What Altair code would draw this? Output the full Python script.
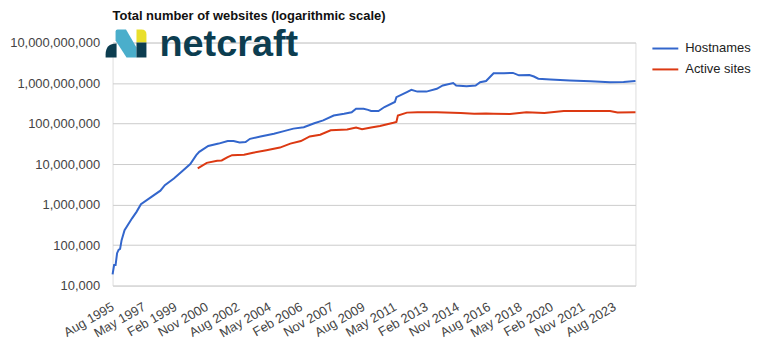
import altair as alt
import pandas as pd

# ---- data ----
host_dates = ["1995-08-01", "1995-09-01", "1995-10-01", "1995-11-01", "1995-12-01", "1996-01-01",
              "1996-02-01", "1996-04-01", "1996-09-01", "1996-12-01", "1997-03-01", "1997-10-01",
              "1998-04-01", "1998-07-01", "1999-01-01", "1999-06-01", "1999-12-01", "2000-04-01",
              "2000-06-01", "2000-12-01", "2001-07-01", "2002-01-01", "2002-05-01", "2002-09-01",
              "2003-01-01", "2003-04-01", "2003-11-01", "2004-08-01", "2005-02-01", "2005-09-01",
              "2006-04-01", "2006-11-01", "2007-05-01", "2007-12-01", "2008-07-01", "2008-12-01",
              "2009-03-01", "2009-08-01", "2009-11-01", "2010-01-01", "2010-06-01", "2010-10-01",
              "2011-05-01", "2011-06-01", "2012-01-01", "2012-04-01", "2012-08-01", "2013-02-01",
              "2013-09-01", "2014-01-01", "2014-08-01", "2014-10-01", "2015-05-01", "2015-11-01",
              "2016-02-01", "2016-06-01", "2016-11-01", "2017-06-01", "2017-12-01", "2018-04-01",
              "2018-11-01", "2019-02-01", "2019-05-01", "2020-01-01", "2021-02-01", "2022-04-01",
              "2023-05-01", "2024-02-01", "2024-10-01"]
host_values = [18957, 32000, 32000, 63000, 76000, 80000,
               132000, 234000, 457000, 660000, 1020000, 1550000,
               2200000, 3000000, 4400000, 6400000, 10000000, 16600000,
               20000000, 28000000, 32000000, 37000000, 37000000, 34000000,
               35000000, 42000000, 48000000, 56000000, 64000000, 75000000,
               81000000, 102000000, 120000000, 158000000, 174000000, 190000000,
               233000000, 233000000, 218000000, 204000000, 204000000, 256000000,
               340000000, 447000000, 600000000, 680000000, 615000000, 615000000,
               720000000, 870000000, 1000000000, 870000000, 830000000, 870000000,
               1050000000, 1120000000, 1750000000, 1750000000, 1780000000, 1550000000,
               1580000000, 1450000000, 1280000000, 1230000000, 1160000000, 1100000000,
               1050000000, 1060000000, 1120000000]

active_dates = ["2000-05-01", "2000-11-01", "2001-06-01", "2001-09-01", "2002-01-01", "2002-04-01",
                "2002-12-01", "2003-06-01", "2004-03-01", "2004-12-01", "2005-07-01", "2006-02-01",
                "2006-08-01", "2007-03-01", "2007-10-01", "2008-09-01", "2009-03-01", "2009-07-01",
                "2010-01-01", "2010-07-01", "2011-04-01", "2011-06-01", "2011-07-01", "2012-01-01",
                "2012-08-01", "2013-09-01", "2015-01-01", "2015-10-01", "2016-06-01", "2016-11-01",
                "2017-10-01", "2018-09-01", "2019-09-01", "2020-10-01", "2021-07-01", "2023-05-01",
                "2023-10-01", "2024-10-01"]
active_values = [7800000, 10700000, 12000000, 12300000, 14800000, 16600000,
                 17000000, 19000000, 22000000, 25500000, 32000000, 37000000,
                 48000000, 53000000, 68000000, 71000000, 80000000, 72000000,
                 80000000, 87000000, 105000000, 110000000, 158000000, 186000000,
                 191000000, 191000000, 182000000, 175000000, 178000000, 175000000,
                 172000000, 190000000, 182000000, 205000000, 205000000, 205000000,
                 188000000, 191000000]

series_names = ["Hostnames", "Active sites"]
series_colors = ["#3366cc", "#dc3912"]
y_ticks = [1e4, 1e5, 1e6, 1e7, 1e8, 1e9, 1e10]
x_tick_dates = ["1995-08", "1997-05", "1999-02", "2000-11", "2002-08", "2004-05", "2006-02",
                "2007-11", "2009-08", "2011-05", "2013-02", "2014-11", "2016-08", "2018-05",
                "2020-02", "2021-11", "2023-08"]
x_domain = ["1995-08", "2024-10"]
title_text = "Total number of websites (logarithmic scale)"
logo_text = "netcraft"

df = pd.concat([
    pd.DataFrame({"date": pd.to_datetime(host_dates), "value": host_values, "series": series_names[0]}),
    pd.DataFrame({"date": pd.to_datetime(active_dates), "value": active_values, "series": series_names[1]}),
])


def dt(s):
    y, m = s.split("-")
    return alt.DateTime(year=int(y), month=int(m), date=1)


W, H = 525, 244
FONT = "Liberation Sans"

lines = alt.Chart(df).mark_line(strokeWidth=2).encode(
    x=alt.X("date:T", title=None,
            scale=alt.Scale(domain=[dt(x_domain[0]), dt(x_domain[1])], nice=False),
            axis=alt.Axis(values=[dt(s) for s in x_tick_dates], format="%b %Y", labelAngle=-30,
                          labelAlign="right", labelBaseline="middle", labelPadding=20,
                          ticks=False, domain=False, grid=False, labelFontSize=13,
                          labelColor="#444444", labelFont=FONT, labelOverlap=False)),
    y=alt.Y("value:Q", title=None,
            scale=alt.Scale(type="log", domain=[1e4, 1e10], nice=False),
            axis=alt.Axis(values=y_ticks, format=",", ticks=False, domain=False,
                          gridColor="#cccccc", labelFontSize=13, labelColor="#444444",
                          labelFont=FONT, labelPadding=13)),
    color=alt.Color("series:N", sort=series_names,
                    scale=alt.Scale(domain=series_names, range=series_colors),
                    legend=alt.Legend(title=None, orient="none", legendX=541, legendY=-8,
                                      symbolType="stroke", symbolSize=676, symbolStrokeWidth=2,
                                      labelFontSize=13, labelColor="#222222", labelFont=FONT,
                                      labelOffset=6, rowPadding=0, padding=0)),
    detail="series:N",
)

title = alt.Chart(pd.DataFrame({"t": [title_text]})).mark_text(
    align="left", baseline="alphabetic", fontSize=13, fontWeight="bold", font=FONT, color="#111111"
).encode(x=alt.value(0), y=alt.value(-23), text="t:N")

logo_word = alt.Chart(pd.DataFrame({"t": [logo_text]})).mark_text(
    align="left", baseline="alphabetic", fontSize=38, fontWeight="bold", font=FONT, color="#0c3d50"
).encode(x=alt.value(47), y=alt.value(14), text="t:N")

logo_parts = [
    ("M-0.976,0.667 L-0.452,0.667 L-0.452,0 Q-0.976,0 -0.976,0.524 Z", "#0c3d50"),
    ("M-0.5,-0.571 Q-0.5,-0.667 -0.405,-0.667 L0,-0.667 L0.5,0.19 L0.5,0.667 L0.024,0.667 L-0.5,-0.143 Z", "#4aaecb"),
    ("M0.5,-0.667 L0.738,-0.667 Q0.976,-0.667 0.976,-0.43 L0.976,-0.048 L0.5,-0.048 Z", "#e9df2b"),
    ("M0.5,-0.048 L0.976,-0.048 L0.976,0.667 L0.5,0.667 Z", "#0c3d50"),
]
logo_layers = []
for path, col in logo_parts:
    logo_layers.append(
        alt.Chart(pd.DataFrame({"k": [0]})).mark_point(
            shape=path, filled=True, size=1764, color=col, opacity=1, strokeWidth=0
        ).encode(x=alt.value(13.5), y=alt.value(1))
    )

chart = alt.layer(lines, *logo_layers, logo_word, title).properties(
    width=W, height=H,
    autosize=alt.AutoSizeParams(type="none"),
    padding={"left": 105, "top": 34, "right": 117, "bottom": 58},
).configure_view(stroke=None).configure(background="white")

chart.save("out.html", embed_options={"renderer": "svg", "actions": False})
